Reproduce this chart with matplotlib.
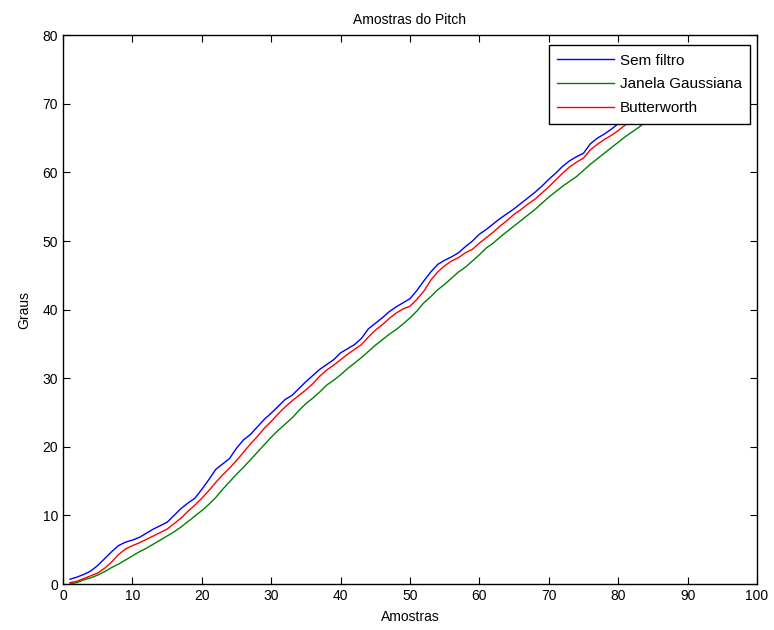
#!/usr/bin/env python3
"""Pitch samples: raw signal vs Gaussian window and Butterworth filters."""

import matplotlib

matplotlib.use("Agg")

import matplotlib.pyplot as plt
import numpy as np

samples = np.arange(1, 91)

sem_filtro = [
    0.7, 1.0, 1.4, 1.9, 2.7, 3.7, 4.7, 5.6, 6.1, 6.4,
    6.8, 7.4, 8.0, 8.5, 9.0, 10.0, 11.0, 11.8, 12.5, 13.8,
    15.2, 16.7, 17.5, 18.3, 19.8, 21.0, 21.8, 22.9, 24.0, 24.9,
    25.9, 26.9, 27.5, 28.5, 29.5, 30.4, 31.3, 32.0, 32.7, 33.7,
    34.3, 34.9, 35.8, 37.2, 38.0, 38.8, 39.7, 40.4, 41.0, 41.6,
    42.8, 44.2, 45.5, 46.6, 47.2, 47.7, 48.3, 49.2, 50.0, 51.0,
    51.7, 52.5, 53.3, 54.0, 54.7, 55.5, 56.3, 57.1, 58.0, 59.0,
    59.9, 60.9, 61.7, 62.3, 62.8, 64.2, 65.0, 65.6, 66.3, 67.1,
    67.8, 68.6, 69.4, 70.2, 71.0, 71.8, 72.6, 73.4, 74.2, 75.0,
]

janela_gaussiana = [
    0.0, 0.2, 0.6, 0.9, 1.3, 1.8, 2.4, 2.9, 3.5, 4.1,
    4.7, 5.2, 5.8, 6.4, 7.0, 7.6, 8.3, 9.1, 9.9, 10.7,
    11.6, 12.6, 13.8, 14.9, 16.0, 17.0, 18.1, 19.2, 20.3, 21.4,
    22.4, 23.3, 24.2, 25.3, 26.3, 27.1, 28.0, 29.0, 29.7, 30.5,
    31.4, 32.2, 33.0, 33.9, 34.8, 35.6, 36.4, 37.1, 37.9, 38.8,
    39.8, 41.0, 41.9, 42.9, 43.7, 44.6, 45.5, 46.2, 47.1, 48.0,
    49.0, 49.7, 50.6, 51.4, 52.2, 53.0, 53.8, 54.6, 55.5, 56.4,
    57.2, 58.0, 58.7, 59.4, 60.3, 61.2, 62.0, 62.8, 63.6, 64.4,
    65.2, 65.9, 66.6, 67.4, 68.2, 69.0, 69.8, 70.6, 71.4, 72.2,
]

butterworth = [
    0.2, 0.4, 0.8, 1.2, 1.6, 2.3, 3.2, 4.3, 5.1, 5.6,
    6.0, 6.5, 7.0, 7.5, 8.0, 8.8, 9.6, 10.6, 11.5, 12.5,
    13.6, 14.8, 15.9, 16.9, 18.0, 19.2, 20.4, 21.5, 22.7, 23.7,
    24.8, 25.8, 26.7, 27.5, 28.3, 29.2, 30.3, 31.2, 31.9, 32.7,
    33.5, 34.2, 34.9, 36.0, 37.0, 37.8, 38.7, 39.5, 40.1, 40.5,
    41.5, 42.7, 44.3, 45.5, 46.4, 47.1, 47.6, 48.3, 48.8, 49.7,
    50.5, 51.3, 52.2, 53.0, 53.9, 54.6, 55.4, 56.1, 57.0, 57.9,
    58.9, 59.9, 60.8, 61.5, 62.1, 63.3, 64.1, 64.8, 65.4, 66.1,
    66.9, 67.7, 68.5, 69.3, 70.1, 70.9, 71.7, 72.5, 73.3, 74.1,
]

plt.rcParams["font.family"] = ["Liberation Sans", "DejaVu Sans"]

fig = plt.figure(figsize=(7.74, 6.30), dpi=100)
ax = fig.add_axes([0.0814, 0.073, 0.8966, 0.871])

ax.plot(samples, sem_filtro, color="#0000ff", linewidth=1.0, label="Sem filtro")
ax.plot(samples, janela_gaussiana, color="#008000", linewidth=1.0, label="Janela Gaussiana")
ax.plot(samples, butterworth, color="#ff0000", linewidth=1.0, label="Butterworth")

ax.set_xlim(0, 100)
ax.set_ylim(0, 80)
ax.set_xticks(np.arange(0, 101, 10))
ax.set_yticks(np.arange(0, 81, 10))
ax.tick_params(direction="in", top=True, right=True, length=5, labelsize=10)
for spine in ax.spines.values():
    spine.set_linewidth(1.0)

ax.set_title("Amostras do Pitch", fontsize=10, pad=8)
ax.set_xlabel("Amostras", fontsize=10, labelpad=5)
ax.set_ylabel("Graus", fontsize=10, labelpad=8)

leg = ax.legend(
    loc="upper right",
    bbox_to_anchor=(0.99, 0.982),
    borderaxespad=0,
    fancybox=False,
    framealpha=1,
    edgecolor="black",
    fontsize=11,
    handlelength=3.7,
    handletextpad=0.4,
    borderpad=0.55,
    labelspacing=0.65,
)
leg.get_frame().set_linewidth(1.0)

fig.savefig("out.png", dpi=100)
